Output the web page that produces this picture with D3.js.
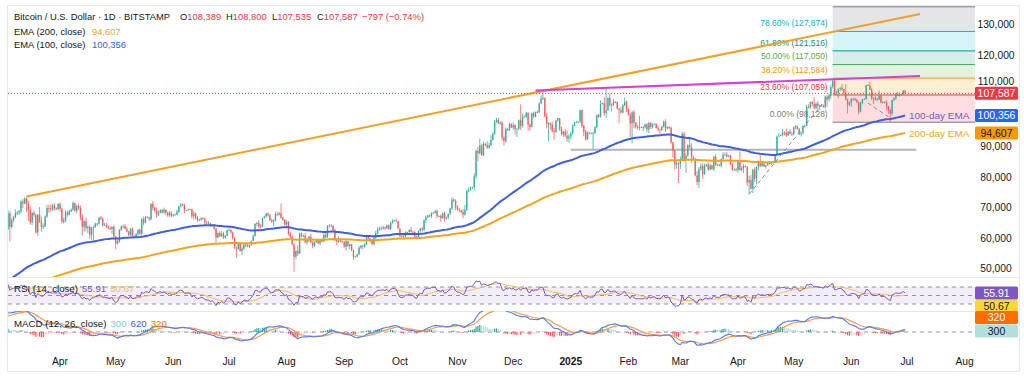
<!DOCTYPE html>
<html><head><meta charset="utf-8">
<script src="https://cdn.jsdelivr.net/npm/d3@7"></script>
<style>
body{margin:0;background:#fff}
svg{display:block}
text{font-family:"Liberation Sans",Arial,sans-serif}
</style>
</head><body>
<svg id="c" width="1024" height="378"></svg>
<script>
// ---------------- DATA (BTC/USD daily, thousands of USD) ----------------
const startDateUTC = "2024-03-03";
const firstOpenK = 62.0;
// daily closes, 2024-03-03 .. 2025-06-30
const closeK = [
// 2024 Mar 3-31
63.1,68.3,63.8,66.1,66.9,68.3,68.5,69.0,72.1,71.5,73.1,71.4,69.4,65.3,68.4,67.6,62.0,67.8,65.5,63.8,64.0,67.2,70.0,69.9,69.5,70.8,69.9,69.6,71.3,
// Apr
69.7,65.5,66.0,68.5,67.8,68.9,69.4,71.6,69.1,70.6,70.0,67.1,63.9,65.7,63.4,63.8,61.3,63.5,63.8,64.9,64.9,66.8,66.4,64.3,64.5,63.8,63.4,63.1,63.8,60.6,
// May
58.3,59.1,62.9,63.9,64.0,63.2,62.3,61.2,63.1,60.8,60.8,61.5,62.9,61.6,66.3,65.2,67.0,66.9,66.3,71.4,70.1,69.2,67.9,68.5,69.3,68.5,69.4,68.4,67.6,68.4,67.5,
// Jun
67.8,67.8,68.8,70.6,71.1,70.8,69.3,69.3,69.6,69.5,67.3,68.2,66.8,66.0,66.2,66.7,66.5,65.2,65.0,64.9,64.1,64.3,63.2,60.3,61.8,60.8,61.6,60.3,60.9,62.7,
// Jul
62.8,62.0,60.2,57.0,56.6,58.2,55.9,56.7,58.0,57.7,57.3,57.9,59.2,60.8,64.8,65.1,64.1,63.9,66.7,67.2,68.2,67.6,65.9,65.4,65.8,68.0,67.9,68.3,66.8,66.2,64.6,
// Aug
65.4,61.5,60.7,58.1,54.0,56.0,55.1,61.7,60.9,60.9,58.7,59.4,60.6,58.7,57.6,58.9,59.5,58.4,59.5,59.0,61.2,60.4,64.1,64.2,64.2,62.8,59.5,59.0,59.4,59.1,58.9,
// Sep
57.3,59.1,57.5,58.0,56.2,53.9,54.1,54.8,57.0,57.6,57.3,58.1,60.5,60.0,59.2,58.2,60.3,61.8,62.9,63.2,63.3,63.6,63.3,64.3,63.1,65.2,65.8,65.9,65.6,63.3,
// Oct
60.8,60.6,60.8,62.1,62.1,62.8,62.2,62.1,60.6,60.3,62.4,63.2,62.8,66.0,67.0,67.6,67.4,68.4,68.4,69.0,67.4,67.4,66.7,68.2,66.6,67.0,68.0,69.9,72.7,72.3,70.2,
// Nov
69.5,69.3,68.7,67.8,69.4,75.6,75.9,76.5,76.7,80.4,88.7,87.9,90.5,87.3,91.0,90.6,89.8,90.5,92.3,94.3,98.3,98.9,97.7,98.0,93.0,91.9,95.9,95.6,97.5,96.4,
// Dec
97.2,95.9,96.0,98.8,96.9,99.9,99.9,101.2,97.4,96.6,101.1,100.0,101.4,101.4,104.3,106.0,106.1,100.2,97.5,97.8,97.3,95.2,94.9,98.7,99.4,95.8,94.2,95.1,93.7,92.8,93.4,
// 2025 Jan
94.4,96.9,98.1,98.2,98.3,102.1,96.9,95.0,92.5,94.7,94.6,94.5,94.5,96.5,100.5,99.9,104.1,104.4,101.1,102.0,106.1,103.7,103.9,104.8,104.7,102.6,102.1,101.3,103.7,104.7,102.4,
// Feb
100.6,97.7,101.4,97.9,96.6,96.6,96.5,96.5,96.5,97.4,95.8,97.9,96.6,97.5,97.6,96.2,95.8,95.6,96.6,98.3,96.1,96.6,96.3,91.5,88.7,84.3,84.7,84.4,
// Mar
86.0,94.3,86.1,87.2,90.6,89.9,86.7,86.1,80.7,78.5,82.9,83.7,81.1,83.9,84.3,82.6,84.0,82.7,86.8,84.2,84.1,83.8,86.1,87.5,87.5,86.9,87.2,84.3,82.4,82.6,82.5,
// Apr
85.2,82.5,83.1,83.8,83.5,78.4,79.2,76.3,82.6,79.6,83.4,85.3,83.7,84.6,83.6,84.0,84.9,84.5,85.1,85.2,87.5,93.4,93.7,93.9,94.7,94.6,93.8,95.0,94.3,94.2,
// May
96.5,96.9,95.9,94.3,94.7,96.8,97.0,103.2,103.0,104.7,104.1,102.8,104.2,103.5,103.7,103.5,103.1,106.5,105.6,106.8,109.7,111.7,107.3,107.8,109.0,109.4,108.9,107.8,105.6,103.9,104.6,
// Jun
105.7,105.8,105.4,104.7,101.6,104.4,105.6,105.7,110.3,110.2,108.7,105.9,106.1,105.4,105.6,106.8,104.6,104.8,104.6,103.3,102.1,100.9,105.4,106.0,107.3,106.9,107.1,107.3,108.389,107.587
];
// upper wick (high minus max(open, close)), thousands
const upWickK = [
0.9,0.8,0.7,0.7,0.6,1.2,0.5,0.4,0.4,0.9,0.4,0.7,1.0,1.2,0.3,0.8,0.5,0.2,2.5,1.7,0.9,0.3,1.0,1.1,1.3,0.6,0.8,0.3,0.3,
0.6,0.3,0.9,0.6,0.7,0.5,0.5,0.6,0.2,0.5,0.8,0.8,0.9,0.2,1.2,0.4,0.7,0.3,0.5,0.3,0.2,0.3,0.6,0.7,0.7,0.6,0.5,0.6,0.2,0.7,
0.3,0.4,0.2,0.3,0.6,0.8,0.7,0.3,0.4,0.6,0.3,0.2,0.1,0.4,0.4,0.9,0.4,0.3,0.2,0.1,0.9,0.4,1.0,0.6,0.3,0.4,0.7,0.2,0.5,0.6,0.5,
0.2,0.4,0.7,0.2,0.5,0.4,0.6,0.1,0.1,0.2,0.3,0.8,0.3,0.7,0.2,0.3,0.3,0.3,0.5,0.7,0.2,0.2,0.3,0.3,0.2,0.6,0.8,0.6,0.2,0.2,
0.6,0.4,0.3,0.3,0.4,0.2,0.4,0.6,0.3,0.6,0.8,0.1,0.1,0.5,0.2,0.4,0.9,0.6,0.1,0.3,0.3,0.3,0.4,0.6,0.6,0.8,0.6,0.4,3.2,0.4,0.1,
0.6,0.3,0.8,0.3,0.2,0.1,1.7,0.2,0.3,0.4,0.9,0.7,0.2,0.9,0.5,0.2,0.2,0.5,0.3,0.5,0.5,0.7,0.3,0.5,0.6,0.3,0.4,0.5,1.3,0.6,0.1,
0.2,0.5,0.1,0.2,0.3,0.1,0.2,0.2,0.5,0.4,0.3,0.5,0.4,0.1,0.2,0.4,0.7,0.7,0.8,0.7,0.6,0.6,0.3,0.3,0.3,0.4,0.5,0.2,0.6,0.3,
0.2,0.8,0.4,0.3,0.2,0.2,1.0,0.3,0.5,0.3,0.4,0.3,0.6,0.3,0.5,0.2,0.3,0.1,0.3,0.5,0.5,0.2,0.5,0.4,0.7,0.2,0.1,0.1,0.9,0.4,0.6,
0.7,0.4,0.1,0.9,1.6,0.4,0.9,0.6,0.4,1.0,0.5,1.3,2.3,0.6,0.8,0.4,1.2,0.9,1.5,0.6,0.5,0.6,0.6,0.4,0.5,0.7,0.5,0.4,0.5,0.3,
0.8,0.2,0.1,0.2,5.2,1.0,0.4,0.3,0.1,0.3,0.2,0.5,0.2,0.5,0.3,1.0,2.2,0.1,0.9,0.4,0.2,1.0,1.0,0.2,0.2,0.1,0.8,0.1,0.8,1.8,0.9,
0.6,0.6,0.2,0.4,0.1,0.2,0.1,0.4,0.6,0.5,0.1,0.1,0.5,0.3,0.1,0.4,1.2,0.1,1.9,7.3,0.1,1.3,0.5,1.0,0.3,0.3,0.1,1.1,0.3,1.5,0.6,
0.3,0.5,0.5,0.7,0.3,0.6,3.6,0.2,0.4,0.3,0.4,0.4,0.3,0.3,0.2,0.1,0.9,0.1,0.4,0.4,0.8,0.2,0.2,0.4,0.2,0.3,0.6,0.3,
0.9,0.7,0.7,0.8,0.3,2.2,1.3,0.4,0.3,1.4,0.5,0.9,1.0,0.7,0.2,0.6,0.4,0.2,0.2,0.8,0.2,0.4,0.1,0.8,0.7,0.9,0.2,0.2,0.5,0.4,0.6,
0.3,3.3,0.7,0.6,0.3,0.2,1.3,1.6,0.1,0.8,0.2,0.3,2.2,0.9,0.3,0.1,0.2,0.5,0.1,0.3,0.2,0.4,0.8,0.1,1.3,0.5,1.4,0.2,0.8,0.6,
0.2,0.2,0.1,0.4,0.3,0.3,0.4,0.6,0.8,0.2,0.4,2.3,0.5,0.8,0.2,0.4,0.4,0.4,0.6,0.6,0.8,0.3,0.1,0.7,0.2,0.3,1.3,0.1,2.8,0.3,0.3,
0.3,0.3,0.4,0.4,0.2,0.5,0.1,0.3,0.1,0.3,1.2,0.6,0.2,0.6,0.6,1.8,0.3,0.2,0.2,0.7,0.2,0.4,0.1,0.2,0.4,0.8,0.2,0.2,0.3,0.411
];
// lower wick (min(open, close) minus low), thousands
const dnWickK = [
1.5,0.3,4.8,0.5,0.8,0.3,0.6,0.7,0.8,1.5,0.3,2.8,3.8,0.8,0.8,0.5,0.4,1.2,0.4,1.5,0.8,0.2,0.4,1.5,0.8,0.5,0.7,0.2,0.2,
1.0,0.6,0.6,0.7,0.6,0.2,0.3,0.2,0.3,0.7,0.6,1.2,2.9,1.7,1.1,1.7,1.4,1.8,4.2,0.3,0.8,0.4,0.4,0.4,0.2,0.3,0.4,0.3,1.7,0.3,
1.8,0.3,0.5,0.5,0.5,0.2,0.3,0.4,0.4,0.2,0.3,0.3,0.8,0.4,0.6,0.8,0.3,0.1,0.6,0.3,0.9,0.6,1.1,0.6,0.2,0.3,0.3,0.8,0.5,0.6,0.6,
0.4,0.2,0.2,0.4,0.4,0.1,1.0,0.2,0.3,0.3,0.8,1.1,0.6,0.6,0.3,0.4,0.3,0.9,0.3,0.2,0.3,0.1,0.4,1.7,0.2,0.3,0.3,0.4,0.4,0.1,
0.2,0.4,0.6,0.4,3.1,0.3,0.2,1.4,0.5,0.5,0.2,0.4,0.2,0.1,0.2,0.9,0.8,0.7,0.1,0.2,0.4,0.4,0.2,0.2,1.3,0.1,0.4,0.4,0.3,0.4,0.4,
1.0,0.5,0.6,0.4,4.9,0.8,0.8,0.2,0.5,0.4,0.1,0.8,0.6,0.2,0.8,0.5,0.3,0.2,0.6,0.3,0.2,0.3,0.2,0.5,0.2,0.3,0.3,1.2,0.5,0.4,0.2,
0.3,1.3,0.2,1.0,0.4,0.9,0.1,0.3,0.3,0.4,0.9,0.3,0.3,0.4,0.4,0.5,0.5,0.6,0.4,0.3,0.4,0.4,0.6,0.2,0.2,0.3,0.3,0.2,0.1,0.1,
0.3,0.1,0.9,0.4,0.3,0.2,0.3,0.1,0.1,0.3,0.1,0.1,0.6,0.3,1.0,0.3,0.4,0.7,0.2,0.3,0.8,0.4,1.2,0.3,1.1,0.4,0.7,0.2,0.6,0.4,0.9,
0.4,0.7,0.5,1.2,0.3,0.3,0.5,0.3,0.2,0.8,0.8,2.7,0.3,0.2,0.2,0.3,0.4,0.3,0.1,0.2,0.4,0.4,0.2,0.4,0.9,1.4,0.5,0.4,0.4,0.2,
0.8,1.8,2.6,0.5,1.3,0.5,0.3,0.3,2.0,1.2,0.1,0.5,0.3,0.4,0.2,0.2,0.7,0.5,1.4,5.6,1.6,0.5,2.5,0.2,0.3,0.5,0.5,0.9,0.4,1.1,1.4,
0.9,0.4,0.1,0.2,0.4,0.4,0.6,1.5,0.4,0.1,0.5,0.4,5.2,0.2,0.3,0.3,0.3,0.1,0.8,1.6,0.1,0.4,2.0,0.4,0.3,0.3,4.3,0.3,0.3,0.3,1.0,
0.3,4.5,6.5,1.7,0.6,0.9,1.0,0.2,1.3,0.5,1.0,1.3,0.7,0.5,0.4,0.1,0.8,2.1,0.3,0.2,1.1,0.3,0.4,0.4,2.2,1.7,1.4,6.2,
1.6,0.6,0.8,4.6,0.3,0.5,1.8,0.1,0.3,1.0,1.9,0.7,1.5,0.2,0.4,0.4,0.3,0.1,0.6,0.5,0.4,0.1,0.5,0.3,0.3,0.3,0.3,0.2,0.2,0.2,0.6,
0.9,0.3,0.6,1.6,0.2,1.1,3.9,0.3,1.4,1.0,1.8,1.1,0.3,0.1,0.1,0.6,0.1,0.2,0.3,0.4,0.1,0.1,0.1,0.1,0.4,0.8,0.5,0.1,0.1,0.5,
0.4,0.7,0.2,0.4,0.9,0.6,0.4,0.2,0.4,0.4,0.6,0.3,0.6,1.9,1.4,0.3,0.1,0.5,2.4,0.7,0.9,0.5,0.1,0.2,1.8,0.6,0.6,0.6,0.3,2.9,0.4,
1.5,0.6,0.3,0.3,0.8,0.2,0.4,0.1,0.1,0.2,0.1,0.6,1.8,0.2,0.2,0.2,0.2,0.4,0.3,1.3,1.2,2.7,0.5,0.5,0.5,0.2,0.4,0.2,0.2,0.052
];

// indicator warm-up seeds (values on the day before the first candle)
const ema100SeedK = 45.5, ema200SeedK = 41.0;
const ema12SeedK = 56.8, ema26SeedK = 52.3, macdSignalSeed = 3900;
const rsiSeedGainK = 0.9, rsiSeedLossK = 0.45;

// tick labels / levels
const priceTicks = [50000,60000,70000,80000,90000,100000,110000,120000,130000];
const fibRatios = [0, 0.236, 0.382, 0.5, 0.618, 0.786, 1];
const fibLevelPrices = [98128, 107059, 112584, 117050, 121516, 127874, 135971];
const fibStartDate = "2025-05-22";
const fibColors = ["#787b86","#f23645","#ff9800","#4caf50","#089981","#00bcd4","#787b86"];

// header readouts
const headerTitle = "Bitcoin / U.S. Dollar · 1D · BITSTAMP";
const ohlcKeys = ["O","H","L","C"];
const ohlcValues = ["108,389","108,800","107,535","107,587"];
const changeText = "−797 (−0.74%)";
const ema200Last = 94607, ema100Last = 100356, lastClose = 107587;
const rsiLast = 55.91, rsiMaLast = 50.67;
const macdHistLast = 300, macdLineLast = 620, macdSignalLast = 320;

// drawn trend lines [date, price]
const risingTrend = [["2024-03-14",73800],["2025-07-08",133600]];
const topTrend = [["2024-12-13",108500],["2025-07-08",113300]];
const supportLine = [["2025-01-01",89100],["2025-07-06",89100]];
const dashedLines = [
  [["2025-04-07",74500],["2025-05-21",107500]],
  [["2025-06-10",104400],["2025-06-22",99500]]
];

// ---------------- BUILD ----------------
const svg = d3.select("#c");
const probe = svg.append("text").attr("font-size", 100).text("130,000");
const kFont = 361 / probe.node().getComputedTextLength();
probe.remove();
const fs = s => s * kFont;

const DAY = 864e5;
const t0 = Date.parse(startDateUTC + "T00:00:00Z");
const P = d => new Date(Date.parse(d + "T00:00:00Z"));

const candles = closeK.map((c, i) => {
  const o = i ? closeK[i-1] : firstOpenK;
  return {
    date: new Date(t0 + i*DAY),
    o: o*1000, c: c*1000,
    h: (Math.max(o, c) + upWickK[i])*1000,
    l: (Math.min(o, c) - dnWickK[i])*1000
  };
});

function ema(vals, n, seed){ const a = 2/(n+1); let e = seed; return vals.map(v => (e = e + a*(v-e))); }
const closes = candles.map(d => d.c);
const ema100 = ema(closes, 100, ema100SeedK*1000);
const ema200 = ema(closes, 200, ema200SeedK*1000);
const e12 = ema(closes, 12, ema12SeedK*1000);
const e26 = ema(closes, 26, ema26SeedK*1000);
const macd = e12.map((v,i) => v - e26[i]);
const signal = ema(macd, 9, macdSignalSeed);
const hist = macd.map((v,i) => v - signal[i]);
let ag = rsiSeedGainK*1000, al = rsiSeedLossK*1000;
const rsi = closes.map((c,i) => {
  const prev = i ? closes[i-1] : firstOpenK*1000;
  const ch = c - prev;
  ag = (ag*13 + Math.max(ch,0))/14;
  al = (al*13 + Math.max(-ch,0))/14;
  return 100 - 100/(1 + ag/al);
});
const rsiMa = rsi.map((v,i) => i < 13 ? null : d3.mean(rsi.slice(i-13, i+1)));

// scales
const x = d3.scaleUtc().domain([P("2024-04-01"), P("2025-07-01")]).range([60, 907]);
const y = d3.scaleLinear().domain([50000, 130000]).range([269, 25]);
const yR = d3.scaleLinear().domain([30, 70]).range([304, 287]);
const yM = d3.scaleLinear().domain([0, 4000]).range([332, 317.2]);

const L = 8, R = 975;
const defs = svg.append("defs");
function clip(id, y0, y1){ defs.append("clipPath").attr("id", id).append("rect").attr("x", L).attr("y", y0).attr("width", R-L).attr("height", y1-y0); }
clip("cm", 5, 277); clip("cr", 277, 311); clip("cd", 311, 349);

// frame & separators
svg.append("rect").attr("x",7.5).attr("y",5.5).attr("width",1012).attr("height",366).attr("fill","none").attr("stroke","#e6e8ee");
[277.5, 311.5].forEach(v => svg.append("line").attr("x1",8).attr("x2",1019).attr("y1",v).attr("y2",v).attr("stroke","#e6e8ee"));

// ---------- main pane ----------
const gm = svg.append("g").attr("clip-path","url(#cm)");
const fibX0 = x(P(fibStartDate));
for (let i = 0; i < fibRatios.length-1; i++) {
  gm.append("rect").attr("x", fibX0).attr("width", R - fibX0)
    .attr("y", y(fibLevelPrices[i+1])).attr("height", y(fibLevelPrices[i]) - y(fibLevelPrices[i+1]))
    .attr("fill", fibColors[i+1]).attr("fill-opacity", i === 5 ? 0.2 : 0.17);
}
fibRatios.forEach((r,i) => {
  gm.append("line").attr("x1", fibX0).attr("x2", R).attr("y1", y(fibLevelPrices[i])).attr("y2", y(fibLevelPrices[i]))
    .attr("stroke", fibColors[i]).attr("stroke-width", 1);
  if (r < 1) {
    gm.append("text").attr("x", fibX0 - 5).attr("y", y(fibLevelPrices[i]) - 5).attr("text-anchor","end")
      .attr("font-size", fs(8.5)).attr("fill", fibColors[i])
      .text(`${(r*100).toFixed(2)}% (${d3.format(",")(fibLevelPrices[i])})`);
  }
});

// support line
gm.append("line").attr("x1", x(P(supportLine[0][0]))).attr("x2", x(P(supportLine[1][0])))
  .attr("y1", y(supportLine[0][1])).attr("y2", y(supportLine[1][1])).attr("stroke","#b2b5be").attr("stroke-width",2.2);

// candles
const upC = "#26a69a", dnC = "#ef5350";
const cg = gm.append("g");
candles.forEach(d => {
  const cx = x(d.date), col = d.c >= d.o ? upC : dnC;
  cg.append("line").attr("x1", cx).attr("x2", cx).attr("y1", y(d.h)).attr("y2", y(d.l))
    .attr("stroke", col).attr("stroke-width", 0.9).attr("opacity", 0.8);
  const top = y(Math.max(d.o, d.c)), bot = y(Math.min(d.o, d.c));
  cg.append("rect").attr("x", cx - 0.7).attr("width", 1.4).attr("y", top).attr("height", Math.max(0.8, bot - top))
    .attr("fill", col).attr("opacity", 0.8);
});

// EMA lines
const lineMain = d3.line().x((d,i) => x(candles[i].date)).y(d => y(d));
gm.append("path").attr("d", lineMain(ema200)).attr("fill","none").attr("stroke","#f7a21b").attr("stroke-width",2);
gm.append("path").attr("d", lineMain(ema100)).attr("fill","none").attr("stroke","#3f5fe0").attr("stroke-width",2);

// trend lines
function tl(pts, col, w, dash){
  const l = gm.append("line").attr("x1", x(P(pts[0][0]))).attr("y1", y(pts[0][1]))
    .attr("x2", x(P(pts[1][0]))).attr("y2", y(pts[1][1])).attr("stroke", col).attr("stroke-width", w);
  if (dash) l.attr("stroke-dasharray", dash);
}
tl(risingTrend, "#f5a024", 2);
tl(topTrend, "#d93fd6", 2);
dashedLines.forEach(p => tl(p, "#8a8d96", 1, "4,3"));

// current price dotted line
gm.append("line").attr("x1", L).attr("x2", R).attr("y1", y(lastClose)).attr("y2", y(lastClose))
  .attr("stroke","#f23645").attr("stroke-width",1).attr("stroke-dasharray","1,2");

// EMA annotations
svg.append("text").attr("x", 909).attr("y", y(ema100Last) + 4).attr("font-size", fs(10)).attr("fill","#6f5fc8").text("100-day EMA");
svg.append("text").attr("x", 909).attr("y", y(ema200Last) + 4).attr("font-size", fs(10)).attr("fill","#f5a623").text("200-day EMA");

// price axis labels (hidden where a value tag sits on top, as in the original)
const mainTags = [lastClose, ema100Last, ema200Last].map(v => y(v));
priceTicks.forEach(p => {
  const yy = y(p);
  if (mainTags.some(t => Math.abs(yy - t) < 5)) return;
  const above = mainTags.find(t => t - yy > 0 && t - yy < 13);
  const base = above !== undefined ? above - 8.5 : yy + 3;
  svg.append("text").attr("x", 996).attr("y", base).attr("text-anchor","middle")
    .attr("font-size", fs(10.3)).attr("fill","#131722").text(d3.format(",")(p));
});

// tags
function tag(yc, bg, fg, txt){
  svg.append("rect").attr("x", 975).attr("y", yc - 6.5).attr("width", 43).attr("height", 13).attr("rx",1.5).attr("fill", bg);
  svg.append("text").attr("x", 996.5).attr("y", yc + 4).attr("text-anchor","middle").attr("font-size", fs(10.5)).attr("fill", fg).text(txt);
}
tag(y(lastClose), "#f23645", "#fff", d3.format(",")(lastClose));
tag(y(ema100Last), "#2962ff", "#fff", d3.format(",")(ema100Last));
tag(y(ema200Last), "#ff9800", "#131722", d3.format(",")(ema200Last));

// header (item positions as in the original legend)
const hdrFont = fs(9.4);
svg.append("text").attr("x", 14).attr("y", 20).attr("font-size", hdrFont).attr("fill","#131722").text(headerTitle);
const ohlcX = [180, 226, 272, 317];
ohlcKeys.forEach((k,i) => {
  const t = svg.append("text").attr("x", ohlcX[i]).attr("y", 20).attr("font-size", hdrFont).attr("fill","#131722");
  t.append("tspan").text(k);
  t.append("tspan").attr("fill","#f23645").text(ohlcValues[i]);
});
svg.append("text").attr("x", 362).attr("y", 20).attr("font-size", hdrFont).attr("fill","#f23645").text(changeText);
svg.append("text").attr("x", 14).attr("y", 35).attr("font-size", hdrFont).attr("fill","#131722").text("EMA (200, close)");
svg.append("text").attr("x", 92).attr("y", 35).attr("font-size", hdrFont).attr("fill","#f7a21b").text(d3.format(",")(ema200Last));
svg.append("text").attr("x", 14).attr("y", 48).attr("font-size", hdrFont).attr("fill","#131722").text("EMA (100, close)");
svg.append("text").attr("x", 92).attr("y", 48).attr("font-size", hdrFont).attr("fill","#2962ff").text(d3.format(",")(ema100Last));

// ---------- RSI pane ----------
const gr = svg.append("g").attr("clip-path","url(#cr)");
gr.append("rect").attr("x", L).attr("width", R-L).attr("y", yR(70)).attr("height", yR(30)-yR(70)).attr("fill","#7e57c2").attr("fill-opacity",0.1);
[70,50,30].forEach(v => gr.append("line").attr("x1",L).attr("x2",R).attr("y1",yR(v)).attr("y2",yR(v))
  .attr("stroke","#787b86").attr("stroke-width",1).attr("stroke-dasharray","4,4").attr("opacity",0.8));
const lineR = d3.line().defined(d => d != null).x((d,i) => x(candles[i].date)).y(d => yR(d));
gr.append("path").attr("d", lineR(rsiMa)).attr("fill","none").attr("stroke","#f0c04a").attr("stroke-width",1);
gr.append("path").attr("d", lineR(rsi)).attr("fill","none").attr("stroke","#7e57c2").attr("stroke-width",1);
const rl = svg.append("text").attr("x",14).attr("y",292).attr("font-size",fs(9.7)).attr("fill","#131722");
rl.append("tspan").text("RSI (14, close)");
rl.append("tspan").attr("dx",4).attr("fill","#7e57c2").text(rsiLast.toFixed(2));
rl.append("tspan").attr("dx",4).attr("fill","#f0c04a").text(rsiMaLast.toFixed(2));
const rT = yR(rsiLast);
tag(rT, "#7e57c2", "#fff", rsiLast.toFixed(2));
tag(Math.max(yR(rsiMaLast), rT + 13.5), "#fdd835", "#131722", rsiMaLast.toFixed(2));

// ---------- MACD pane ----------
const gd = svg.append("g").attr("clip-path","url(#cd)");
gd.append("line").attr("x1",L).attr("x2",R).attr("y1",yM(0)).attr("y2",yM(0))
  .attr("stroke","#787b86").attr("stroke-width",1).attr("stroke-dasharray","4,4").attr("opacity",0.8);
hist.forEach((h,i) => {
  const prev = i ? hist[i-1] : h;
  const col = h >= 0 ? (h >= prev ? "#26a69a" : "#b2dfdb") : (h < prev ? "#ff5252" : "#ffcdd2");
  const cx = x(candles[i].date);
  gd.append("rect").attr("x", cx - 0.6).attr("width", 1.2).attr("y", Math.min(yM(h), yM(0))).attr("height", Math.abs(yM(h)-yM(0)))
    .attr("fill", col);
});
const lineM = d3.line().x((d,i) => x(candles[i].date)).y(d => yM(d));
gd.append("path").attr("d", lineM(signal)).attr("fill","none").attr("stroke","#ff9a4a").attr("stroke-width",1.2);
gd.append("path").attr("d", lineM(macd)).attr("fill","none").attr("stroke","#5b7ff0").attr("stroke-width",1.2);
const ml = svg.append("text").attr("x",14).attr("y",327).attr("font-size",fs(9.7)).attr("fill","#131722");
ml.append("tspan").text("MACD (12, 26, close)");
ml.append("tspan").attr("dx",4).attr("fill","#80cbc4").text(macdHistLast);
ml.append("tspan").attr("dx",4).attr("fill","#2962ff").text(macdLineLast);
ml.append("tspan").attr("dx",4).attr("fill","#ff6d00").text(macdSignalLast);
const hT = yM(macdHistLast);
tag(hT, "#b2dfdb", "#131722", String(macdHistLast));
tag(Math.min(yM(macdSignalLast), hT - 13.5), "#ff6d00", "#fff", String(macdSignalLast));

// ---------- time axis ----------
const months = d3.utcMonth.range(P("2024-04-01"), P("2025-08-02"));
months.forEach(m => {
  const isYear = m.getUTCMonth() === 0;
  svg.append("text").attr("x", x(m)).attr("y", 365).attr("text-anchor","middle").attr("font-size", fs(10.3))
    .attr("font-weight", isYear ? "bold" : "normal").attr("fill","#131722")
    .text(isYear ? d3.utcFormat("%Y")(m) : d3.utcFormat("%b")(m));
});
</script>
</body></html>
